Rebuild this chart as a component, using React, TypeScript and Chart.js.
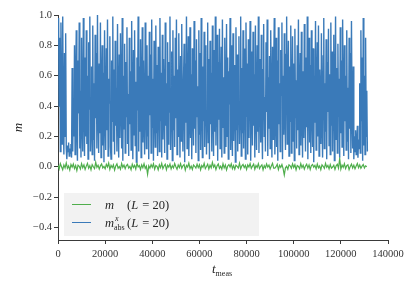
import React, { useEffect, useRef } from "react";
import { Chart, registerables } from "chart.js";

Chart.register(...registerables);

// m_abs^x (L=20), sampled every 250 steps of t_meas
const blueStep = 250;
const blueValues = [
  0.92, 0.98, 0.4, 0.85, 0.1, 0.95, 0.6, 0.15, 0.99, 0.3, 0.08, 0.75, 0.2, 0.88, 0.12, 0.05, 0.14, 0.1, 0.16, 0.07,
  0.12, 0.09, 0.15, 0.06, 0.65, 0.1, 0.45, 0.2, 0.8, 0.08, 0.55, 0.9, 0.25, 0.04, 0.7, 0.35, 0.95, 0.12, 0.5, 0.06,
  0.85, 0.3, 0.1, 0.98, 0.45, 0.07, 0.72, 0.2, 0.9, 0.15, 0.6, 0.05, 0.82, 0.38, 0.99, 0.1, 0.28, 0.66, 0.08, 0.93,
  0.18, 0.55, 0.04, 0.87, 0.32, 0.75, 0.12, 1.0, 0.4, 0.09, 0.68, 0.22, 0.95, 0.06, 0.5, 0.8, 0.14, 0.62, 0.03, 0.9,
  0.35, 0.11, 0.78, 0.24, 0.97, 0.07, 0.58, 0.42, 0.86, 0.13, 0.05, 0.7, 0.3, 0.99, 0.17, 0.64, 0.08, 0.83, 0.27, 0.52,
  0.1, 0.94, 0.36, 0.06, 0.74, 0.19, 0.88, 0.45, 0.12, 0.98, 0.04, 0.6, 0.25, 0.81, 0.09, 0.69, 0.33, 0.92, 0.15, 0.48,
  0.07, 0.85, 0.28, 0.63, 0.11, 0.96, 0.4, 0.05, 0.77, 0.21, 0.9, 0.14, 0.56, 0.03, 0.72, 0.37, 0.99, 0.1, 0.66, 0.23,
  0.84, 0.06, 0.47, 0.92, 0.16, 0.7, 0.31, 0.08, 0.95, 0.43, 0.12, 0.8, 0.2, 0.6, 0.05, 0.89, 0.34, 0.74, 0.09, 0.97,
  0.26, 0.58, 0.04, 0.83, 0.39, 0.13, 0.93, 0.22, 0.67, 0.07, 0.79, 0.5, 0.1, 0.98, 0.3, 0.62, 0.06, 0.87, 0.18, 0.71,
  0.41, 0.09, 0.95, 0.27, 0.55, 0.05, 0.82, 0.15, 0.69, 0.36, 0.99, 0.11, 0.48, 0.76, 0.04, 0.9, 0.24, 0.6, 0.13, 0.85,
  0.32, 0.97, 0.08, 0.64, 0.2, 0.88, 0.44, 0.06, 0.73, 0.17, 0.94, 0.38, 0.1, 0.57, 0.81, 0.03, 0.68, 0.29, 0.99, 0.12,
  0.5, 0.86, 0.07, 0.35, 0.92, 0.19, 0.61, 0.05, 0.78, 0.42, 0.14, 0.96, 0.25, 0.7, 0.09, 0.84, 0.33, 0.53, 0.04, 0.9,
  0.21, 0.75, 0.11, 0.98, 0.46, 0.06, 0.66, 0.3, 0.89, 0.13, 0.58, 0.8, 0.08, 0.37, 0.95, 0.16, 0.71, 0.05, 0.83, 0.28,
  0.62, 0.1, 0.93, 0.4, 0.07, 0.77, 0.23, 0.99, 0.14, 0.52, 0.87, 0.04, 0.69, 0.31, 0.91, 0.12, 0.45, 0.79, 0.06, 0.97,
  0.26, 0.59, 0.09, 0.85, 0.35, 0.13, 0.94, 0.2, 0.72, 0.05, 0.63, 0.41, 0.98, 0.11, 0.8, 0.29, 0.07, 0.88, 0.17, 0.67,
  0.48, 0.03, 0.92, 0.24, 0.74, 0.1, 0.56, 0.86, 0.15, 0.39, 0.99, 0.07, 0.65, 0.22, 0.9, 0.12, 0.51, 0.78, 0.05, 0.95,
  0.33, 0.68, 0.08, 0.84, 0.19, 0.57, 0.96, 0.04, 0.43, 0.76, 0.14, 0.89, 0.27, 0.61, 0.06, 0.93, 0.38, 0.11, 0.8, 0.23,
  0.99, 0.09, 0.53, 0.71, 0.16, 0.87, 0.3, 0.05, 0.64, 0.94, 0.2, 0.46, 0.1, 0.82, 0.36, 0.97, 0.07, 0.59, 0.25, 0.73,
  0.12, 0.9, 0.42, 0.06, 0.79, 0.18, 0.62, 0.98, 0.08, 0.34, 0.85, 0.13, 0.7, 0.04, 0.92, 0.28, 0.55, 0.1, 0.77, 0.47,
  0.95, 0.05, 0.6, 0.21, 0.88, 0.37, 0.11, 0.74, 0.99, 0.15, 0.5, 0.83, 0.07, 0.66, 0.3, 0.93, 0.09, 0.41, 0.86, 0.17,
  0.68, 0.04, 0.91, 0.32, 0.57, 0.12, 0.8, 0.24, 0.97, 0.08, 0.45, 0.75, 0.14, 0.89, 0.35, 0.06, 0.63, 0.19, 0.94, 0.4,
  0.1, 0.72, 0.26, 0.99, 0.05, 0.54, 0.85, 0.16, 0.67, 0.09, 0.9, 0.38, 0.13, 0.78, 0.03, 0.6, 0.29, 0.96, 0.11, 0.49,
  0.82, 0.2, 0.93, 0.07, 0.64, 0.43, 0.15, 0.88, 0.31, 0.06, 0.73, 0.98, 0.12, 0.55, 0.23, 0.84, 0.05, 0.69, 0.36, 0.91,
  0.14, 0.61, 0.08, 0.95, 0.27, 0.76, 0.1, 0.5, 0.87, 0.04, 0.4, 0.99, 0.18, 0.65, 0.09, 0.81, 0.33, 0.58, 0.06, 0.92,
  0.22, 0.7, 0.13, 0.97, 0.44, 0.07, 0.8, 0.3, 0.6, 0.11, 0.9, 0.17, 0.52, 0.05, 0.85, 0.25, 0.75, 0.09, 0.96, 0.35,
  0.12, 0.66, 0.05, 0.2, 0.1, 0.24, 0.08, 0.15, 0.27, 0.06, 0.18, 0.12, 0.55, 0.09, 0.9, 0.3, 0.72, 0.04, 0.98, 0.14,
  0.6, 0.08, 0.85, 0.2, 0.5, 0.1,
];

// m (L=20), sampled every 500 steps of t_meas
const greenStep = 500;
const greenValues = [
  0.01, -0.015, 0.02, 0.0, -0.02, 0.012, -0.008, 0.025, -0.01, 0.005, -0.022, 0.015, -0.003, 0.018, -0.012, 0.008, -0.025, 0.01, 0.003, -0.015,
  0.02, -0.006, 0.012, -0.018, 0.004, 0.022, -0.01, 0.007, -0.02, 0.014, 0.0, -0.012, 0.03, -0.004, 0.01, -0.016, 0.006, 0.018, -0.008, 0.002,
  -0.014, 0.016, -0.002, 0.024, -0.018, 0.009, -0.006, 0.013, -0.022, 0.005, 0.019, -0.01, 0.002, -0.017, 0.021, -0.004, 0.011, -0.013, 0.007, 0.015,
  -0.009, 0.003, -0.02, 0.017, -0.005, 0.01, -0.015, 0.023, -0.002, 0.008, -0.018, 0.012, -0.007, 0.02, -0.011, 0.004, -0.05, 0.006, -0.01, 0.014,
  -0.004, 0.019, -0.016, 0.008, 0.002, -0.021, 0.013, -0.006, 0.022, -0.012, 0.005, 0.016, -0.019, 0.01, -0.003, 0.018, -0.014, 0.007, -0.008, 0.021,
  0.0, -0.017, 0.012, -0.005, 0.02, -0.01, 0.006, 0.015, -0.022, 0.009, -0.002, 0.024, -0.013, 0.004, -0.018, 0.011, 0.003, -0.009, 0.017, -0.006,
  0.013, -0.02, 0.008, -0.004, 0.022, -0.012, 0.001, 0.016, -0.015, 0.01, -0.007, 0.028, -0.003, 0.012, -0.019, 0.006, 0.018, -0.011, 0.004, -0.016,
  0.02, -0.008, 0.011, -0.021, 0.005, 0.014, -0.003, 0.019, -0.013, 0.007, -0.017, 0.01, 0.002, -0.009, 0.023, -0.014, 0.006, 0.015, -0.006, 0.009,
  -0.018, 0.012, -0.002, 0.021, -0.011, 0.004, 0.017, -0.016, 0.008, -0.005, 0.02, -0.012, 0.003, 0.013, -0.02, 0.007, -0.008, 0.018, -0.003, 0.011,
  -0.015, 0.005, 0.022, -0.01, -0.01, 0.0, 0.016, -0.019, 0.009, -0.004, 0.014, -0.012, -0.055, -0.007, 0.003, -0.017, 0.012, 0.006, -0.01, 0.019,
  -0.005, 0.013, -0.02, 0.008, 0.002, -0.013, 0.021, -0.006, 0.01, -0.016, 0.004, 0.017, -0.009, 0.012, -0.018, 0.007, 0.015, -0.003, 0.009, -0.014,
  0.018, -0.007, 0.005, -0.02, 0.012, 0.003, -0.011, 0.022, -0.004, 0.009, -0.015, 0.014, -0.01, -0.002, 0.01, -0.018, 0.006, 0.016, -0.009, 0.055,
  -0.016, 0.011, -0.004, 0.02, -0.012, 0.007, 0.013, -0.019, 0.002, 0.017, -0.008, 0.01, -0.014, 0.005, 0.021, -0.006, 0.012, -0.01, 0.004, 0.015,
  -0.008, 0.006, 0.0,
];

const xTicks = [0, 20000, 40000, 60000, 80000, 100000, 120000, 140000];
const yTicks = [-0.4, -0.2, 0.0, 0.2, 0.4, 0.6, 0.8, 1.0];
const xMin = 0;
const xMax = 140000;
const yMin = -0.483;
const yMax = 1.0;

const BLUE = "#3a7ab9";
const GREEN = "#4fae4c";
const AXIS = "#3a3a3a";
const FONT = '"Liberation Serif", "DejaVu Serif", serif';

type Run = { text: string; italic?: boolean; size: number; dy?: number; gap?: number };

function drawRuns(ctx: CanvasRenderingContext2D, x: number, y: number, runs: Run[]) {
  let cx = x;
  for (const r of runs) {
    ctx.font = `${r.italic ? "italic " : ""}${r.size}px ${FONT}`;
    ctx.fillText(r.text, cx, y + (r.dy || 0));
    cx += ctx.measureText(r.text).width + (r.gap || 0);
  }
}

const overlayPlugin = {
  id: "overlay",
  afterDraw(chart: any) {
    const ctx: CanvasRenderingContext2D = chart.ctx;
    const area = chart.chartArea;
    ctx.save();
    ctx.fillStyle = "#262626";
    ctx.textBaseline = "alphabetic";
    ctx.textAlign = "left";

    // x axis title: t_meas
    const cxm = (area.left + area.right) / 2;
    drawRuns(ctx, cxm - 11, 273, [
      { text: "t", italic: true, size: 13 },
      { text: "meas", size: 8, dy: 3 },
    ]);

    // y axis title: m
    ctx.save();
    ctx.translate(19, (area.top + area.bottom) / 2);
    ctx.rotate(-Math.PI / 2);
    ctx.textAlign = "center";
    ctx.textBaseline = "middle";
    ctx.font = `italic 13px ${FONT}`;
    ctx.fillText("m", 0, 0);
    ctx.restore();

    // legend box
    ctx.fillStyle = "#f2f2f2";
    ctx.fillRect(64, 193, 195, 43);
    ctx.lineWidth = 1;
    ctx.strokeStyle = GREEN;
    ctx.beginPath();
    ctx.moveTo(72, 204.5);
    ctx.lineTo(91, 204.5);
    ctx.stroke();
    ctx.strokeStyle = BLUE;
    ctx.beginPath();
    ctx.moveTo(72, 222.5);
    ctx.lineTo(91, 222.5);
    ctx.stroke();

    ctx.fillStyle = "#262626";
    drawRuns(ctx, 105, 208.5, [{ text: "m", italic: true, size: 12.5 }]);
    drawRuns(ctx, 127, 208.5, [
      { text: "(", size: 12.5 },
      { text: "L", italic: true, size: 12.5, gap: 1 },
      { text: " = 20)", size: 12.5 },
    ]);
    drawRuns(ctx, 105, 226.5, [{ text: "m", italic: true, size: 12.5, gap: 0 }]);
    ctx.font = `italic 8px ${FONT}`;
    ctx.fillText("x", 115, 221);
    ctx.font = `8px ${FONT}`;
    ctx.fillText("abs", 114, 229.5);
    drawRuns(ctx, 127, 226.5, [
      { text: "(", size: 12.5 },
      { text: "L", italic: true, size: 12.5, gap: 1 },
      { text: " = 20)", size: 12.5 },
    ]);
    ctx.restore();
  },
};

export default function App() {
  const ref = useRef<HTMLCanvasElement | null>(null);

  useEffect(() => {
    if (!ref.current) return;
    const chart = new Chart(ref.current, {
      type: "line",
      data: {
        datasets: [
          {
            label: "m_abs^x (L = 20)",
            data: blueValues.map((v, i) => ({ x: i * blueStep, y: v })),
            borderColor: BLUE,
            borderWidth: 1.4,
            pointRadius: 0,
            tension: 0,
          },
          {
            label: "m (L = 20)",
            data: greenValues.map((v, i) => ({ x: i * greenStep, y: v })),
            borderColor: GREEN,
            borderWidth: 1.2,
            pointRadius: 0,
            tension: 0,
          },
        ],
      },
      options: {
        responsive: false,
        animation: false,
        layout: { padding: { left: 0, right: 28, top: 15, bottom: 17 } },
        plugins: { legend: { display: false }, tooltip: { enabled: false } },
        scales: {
          x: {
            type: "linear",
            min: xMin,
            max: xMax,
            afterFit: (s: any) => {
              s.height = 30;
            },
            afterBuildTicks: (s: any) => {
              s.ticks = xTicks.map((v) => ({ value: v }));
            },
            ticks: {
              callback: (v: any) => String(v),
              font: { family: FONT, size: 10.5 },
              color: "#333",
              padding: 4,
              maxRotation: 0,
            },
            grid: { display: true, drawOnChartArea: false, drawTicks: true, tickLength: 4, tickColor: AXIS },
            border: { display: true, color: AXIS, width: 1 },
          },
          y: {
            type: "linear",
            min: yMin,
            max: yMax,
            afterFit: (s: any) => {
              s.width = 58;
            },
            afterBuildTicks: (s: any) => {
              s.ticks = yTicks.map((v) => ({ value: v }));
            },
            ticks: {
              callback: (v: any) => (v < -1e-9 ? "\u2212" : "") + Math.abs(v).toFixed(1),
              font: { family: FONT, size: 10.5 },
              color: "#333",
              padding: 2,
            },
            grid: { display: true, drawOnChartArea: false, drawTicks: true, tickLength: 4, tickColor: AXIS },
            border: { display: true, color: AXIS, width: 1 },
          },
        },
      },
      plugins: [overlayPlugin],
    });
    return () => chart.destroy();
  }, []);

  return (
    <canvas
      ref={ref}
      width={416}
      height={287}
      style={{ position: "fixed", left: 0, top: 0, width: 416, height: 287, display: "block" }}
    />
  );
}
